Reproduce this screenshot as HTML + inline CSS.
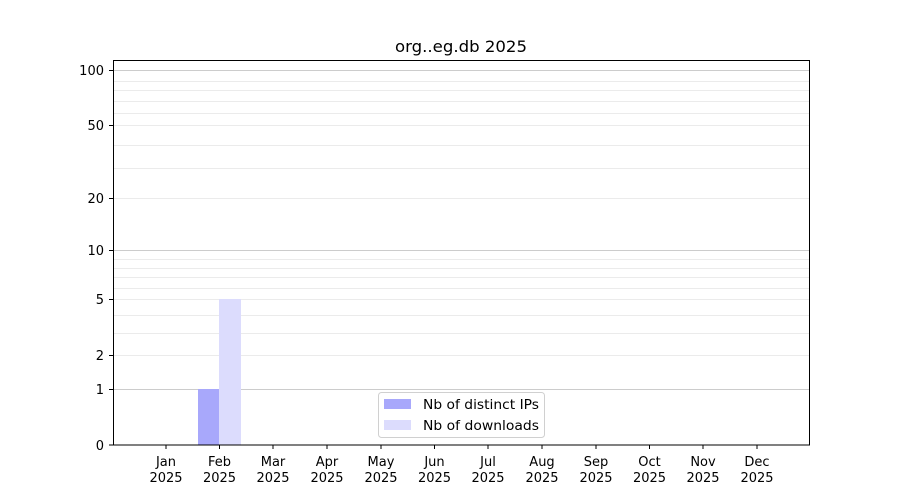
<!DOCTYPE html>
<html><head><style>body{margin:0;background:#fff}svg{display:block}text{font-family:"DejaVu Sans","Liberation Sans",sans-serif;font-size:13px;fill:#000}</style></head><body>
<svg width="900" height="500" xmlns="http://www.w3.org/2000/svg">
<rect width="900" height="500" fill="#fff"/>
<g stroke="#ebebeb" stroke-width="1">
<line x1="113" x2="810" y1="333.5" y2="333.5"/><line x1="113" x2="810" y1="315.5" y2="315.5"/>
<line x1="113" x2="810" y1="288.5" y2="288.5"/><line x1="113" x2="810" y1="277.5" y2="277.5"/>
<line x1="113" x2="810" y1="268.5" y2="268.5"/><line x1="113" x2="810" y1="259.5" y2="259.5"/>
<line x1="113" x2="810" y1="168.5" y2="168.5"/><line x1="113" x2="810" y1="145.5" y2="145.5"/>
<line x1="113" x2="810" y1="113.5" y2="113.5"/><line x1="113" x2="810" y1="101.5" y2="101.5"/>
<line x1="113" x2="810" y1="90.5" y2="90.5"/><line x1="113" x2="810" y1="81.5" y2="81.5"/>
<line x1="113" x2="810" y1="355.5" y2="355.5"/><line x1="113" x2="810" y1="299.5" y2="299.5"/>
<line x1="113" x2="810" y1="198.5" y2="198.5"/><line x1="113" x2="810" y1="125.5" y2="125.5"/>
</g>
<g stroke="#cccccc" stroke-width="1">
<line x1="113" x2="810" y1="389.5" y2="389.5"/><line x1="113" x2="810" y1="250.5" y2="250.5"/><line x1="113" x2="810" y1="70.5" y2="70.5"/>
</g>
<rect x="198" y="389" width="21" height="56" fill="#a8a8fb"/>
<rect x="219" y="299" width="22" height="146" fill="#dcdcfd"/>
<rect x="113.5" y="60.5" width="696" height="384.5" fill="none" stroke="#000"/>
<g stroke="#000">
<line x1="109" x2="113" y1="445" y2="445"/><line x1="109" x2="113" y1="389.5" y2="389.5"/><line x1="109" x2="113" y1="355.5" y2="355.5"/>
<line x1="109" x2="113" y1="299.5" y2="299.5"/><line x1="109" x2="113" y1="250.5" y2="250.5"/><line x1="109" x2="113" y1="198.5" y2="198.5"/>
<line x1="109" x2="113" y1="125.5" y2="125.5"/><line x1="109" x2="113" y1="70.5" y2="70.5"/>
</g>
<g text-anchor="end">
<text x="104" y="450">0</text><text x="104" y="394">1</text><text x="104" y="360">2</text><text x="104" y="304">5</text>
<text x="104" y="255">10</text><text x="104" y="203">20</text><text x="104" y="130">50</text><text x="104" y="75">100</text>
</g>
<g text-anchor="middle">
<text x="166" y="466">Jan</text><text x="166" y="482">2025</text>
<text x="219.5" y="466">Feb</text><text x="219.5" y="482">2025</text>
<text x="273" y="466">Mar</text><text x="273" y="482">2025</text>
<text x="327" y="466">Apr</text><text x="327" y="482">2025</text>
<text x="381" y="466">May</text><text x="381" y="482">2025</text>
<text x="434.5" y="466">Jun</text><text x="434.5" y="482">2025</text>
<text x="488" y="466">Jul</text><text x="488" y="482">2025</text>
<text x="542" y="466">Aug</text><text x="542" y="482">2025</text>
<text x="596" y="466">Sep</text><text x="596" y="482">2025</text>
<text x="649.5" y="466">Oct</text><text x="649.5" y="482">2025</text>
<text x="703" y="466">Nov</text><text x="703" y="482">2025</text>
<text x="757" y="466">Dec</text><text x="757" y="482">2025</text>
</g>
<g stroke="#000">
<line x1="166" x2="166" y1="445" y2="449"/><line x1="219.5" x2="219.5" y1="445" y2="449"/><line x1="273" x2="273" y1="445" y2="449"/>
<line x1="327" x2="327" y1="445" y2="449"/><line x1="381" x2="381" y1="445" y2="449"/><line x1="434.5" x2="434.5" y1="445" y2="449"/>
<line x1="488" x2="488" y1="445" y2="449"/><line x1="542" x2="542" y1="445" y2="449"/><line x1="596" x2="596" y1="445" y2="449"/>
<line x1="649.5" x2="649.5" y1="445" y2="449"/><line x1="703" x2="703" y1="445" y2="449"/><line x1="757" x2="757" y1="445" y2="449"/>
</g>
<text x="461" y="52" text-anchor="middle" style="font-size:16px" textLength="132" lengthAdjust="spacingAndGlyphs">org..eg.db 2025</text>
<rect x="378.5" y="392.5" width="166" height="45" rx="3" fill="#fff" fill-opacity="0.8" stroke="#d0d0d0"/>
<rect x="384" y="399" width="27" height="10" fill="#a8a8fb"/>
<rect x="384" y="420" width="27" height="10" fill="#dcdcfd"/>
<text x="423" y="409" textLength="116" lengthAdjust="spacingAndGlyphs">Nb of distinct IPs</text>
<text x="423" y="430" textLength="116" lengthAdjust="spacingAndGlyphs">Nb of downloads</text>
</svg>
</body></html>
